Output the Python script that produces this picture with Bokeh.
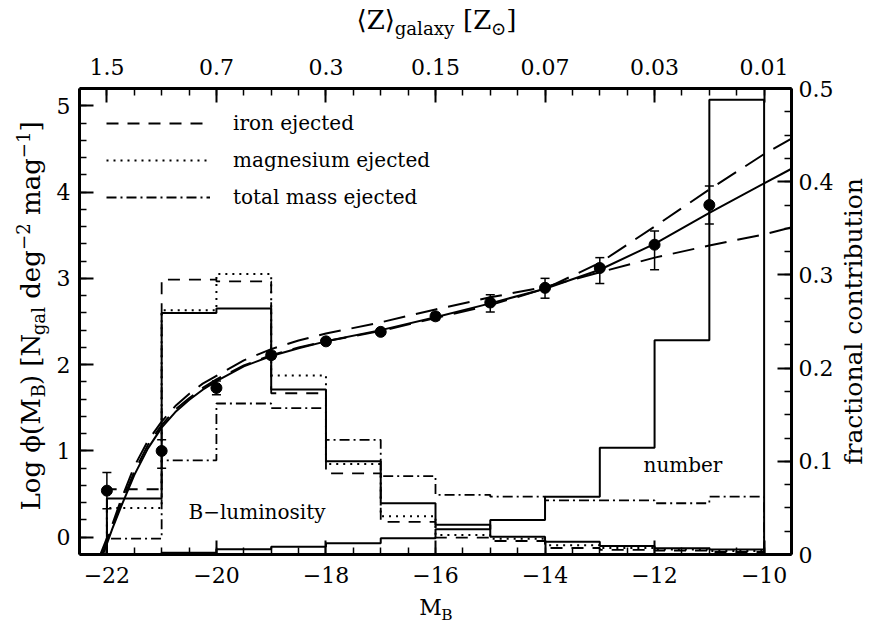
import math
from bokeh.plotting import figure
from bokeh.layouts import row, column
from bokeh.models import (Range1d, LinearAxis, SingleIntervalTicker, ColumnDataSource,
                          Whisker, TeeHead, Label, Legend, LegendItem, CustomJSTickFormatter)
from bokeh.embed import file_html
from bokeh.resources import INLINE

# ---------------- data ----------------
bin_edges = [-22, -21, -20, -19, -18, -17, -16, -15, -14, -13, -12, -11, -10]
frac_blum = [0.060, 0.259, 0.264, 0.177, 0.100, 0.055, 0.032, 0.019, 0.0137, 0.009, 0.0066, 0.0054]
frac_number = [0.0005, 0.002, 0.0056, 0.0084, 0.012, 0.0174, 0.027, 0.037, 0.062, 0.1146, 0.230, 0.488]
frac_iron = [0.070, 0.295, 0.293, 0.173, 0.087, 0.035, 0.018, 0.0145, 0.007, 0.005, 0.0043, 0.0027]
frac_mg = [0.050, 0.262, 0.301, 0.192, 0.097, 0.041, 0.021, 0.017, 0.010, 0.007, 0.0054, 0.0038]
frac_total = [0.017, 0.101, 0.162, 0.157, 0.123, 0.084, 0.064, 0.062, 0.058, 0.058, 0.055, 0.062]

pts_x = [-22, -21, -20, -19, -18, -17, -16, -15, -14, -13, -12, -11]
pts_y = [0.54, 1.00, 1.73, 2.11, 2.27, 2.38, 2.56, 2.72, 2.89, 3.12, 3.39, 3.85]
err_lo = [0.33, 0.80, 1.65, 2.07, 2.24, 2.35, 2.52, 2.61, 2.77, 2.94, 3.10, 3.63]
err_hi = [0.75, 1.13, 1.81, 2.15, 2.30, 2.41, 2.60, 2.81, 3.00, 3.24, 3.55, 4.07]

solid_x = [-22.07, -21.9, -21.75, -21.5, -21.25, -21.0, -20.75, -20.5, -20.25, -20.0, -19.5, -19.0,
           -18.5, -18.0, -17.0, -16.0, -15.0, -14.0, -13.0, -12.0, -11.0, -10.0, -9.5]
solid_y = [-0.20, 0.10, 0.34, 0.72, 1.03, 1.27, 1.45, 1.59, 1.71, 1.81, 1.98, 2.10,
           2.19, 2.27, 2.40, 2.55, 2.71, 2.88, 3.10, 3.40, 3.76, 4.10, 4.27]
steep_x = [-22.09, -21.9, -21.75, -21.5, -21.25, -21.0, -20.75, -20.5, -20.25, -20.0, -19.5, -19.0,
           -18.5, -18.0, -17.0, -16.0, -15.0, -14.0, -13.0, -12.0, -11.0, -10.0, -9.5]
steep_y = [-0.20, 0.12, 0.37, 0.76, 1.07, 1.30, 1.48, 1.61, 1.73, 1.83, 1.99, 2.11,
           2.20, 2.27, 2.39, 2.54, 2.69, 2.88, 3.18, 3.60, 4.03, 4.44, 4.62]
flat_x = [-22.12, -21.9, -21.75, -21.5, -21.25, -21.0, -20.75, -20.5, -20.25, -20.0, -19.5, -19.0,
          -18.5, -18.0, -17.0, -16.0, -15.0, -14.0, -13.0, -12.0, -11.0, -10.0, -9.5]
flat_y = [-0.20, 0.15, 0.42, 0.82, 1.12, 1.34, 1.52, 1.66, 1.78, 1.87, 2.05, 2.18,
          2.28, 2.36, 2.49, 2.64, 2.78, 2.90, 3.07, 3.24, 3.38, 3.51, 3.59]

top_ticks = [-22, -20, -18, -16, -14, -12, -10]
top_labels = ["1.5", "0.7", "0.3", "0.15", "0.07", "0.03", "0.01"]

legend_labels = ["iron ejected", "magnesium ejected", "total mass ejected"]

# ---------------- layout (picture pixels) ----------------
FONT = "DejaVu Serif"
L, R, T, B = 79, 791, 88, 554          # frame edges
X0, X1, Y0, Y1 = -22.5, -9.5, -0.2, 5.2
F0, F1 = 0.0, 0.5
TOTAL_W, TOTAL_H = 868, 628
LEFT_W, RIGHT_W, TOP_H, BOT_H = 50, 30, 40, 34
MAIN_X0 = LEFT_W
MAIN_X1 = TOTAL_W - RIGHT_W
MAIN_Y0 = TOP_H
MAIN_Y1 = TOTAL_H - BOT_H
MID = 0.36   # text 'middle' anchor sits this many em above the baseline

p = figure(frame_width=R - L, frame_height=B - T,
           min_border_left=L - MAIN_X0, min_border_right=MAIN_X1 - R,
           min_border_top=T - MAIN_Y0, min_border_bottom=MAIN_Y1 - B,
           x_range=Range1d(X0, X1), y_range=Range1d(Y0, Y1), title=None,
           x_axis_location=None, y_axis_location=None,
           output_backend="svg", toolbar_location=None)
p.extra_y_ranges = {"frac": Range1d(F0, F1)}
p.grid.visible = False
p.outline_line_color = None


def style(ax, standoff):
    ax.axis_line_width = 3
    ax.axis_line_color = "black"
    ax.major_tick_in = 14
    ax.major_tick_out = 0
    ax.minor_tick_in = 7
    ax.minor_tick_out = 0
    ax.major_tick_line_width = 2
    ax.minor_tick_line_width = 1.5
    ax.major_tick_line_color = "black"
    ax.minor_tick_line_color = "black"
    ax.major_label_text_font = FONT
    ax.major_label_text_font_size = "22px"
    ax.major_label_text_color = "black"
    ax.major_label_standoff = standoff


minus_fmt = CustomJSTickFormatter(code="return (tick < 0 ? '\u2212' : '') + Math.abs(tick).toFixed(0);")
bottom = LinearAxis(ticker=SingleIntervalTicker(interval=2, num_minor_ticks=4), formatter=minus_fmt)
style(bottom, 12)
p.add_layout(bottom, "below")

top = LinearAxis(ticker=SingleIntervalTicker(interval=2, num_minor_ticks=4),
                 major_label_overrides=dict(zip(top_ticks, top_labels)))
style(top, 14)
p.add_layout(top, "above")

left = LinearAxis(ticker=SingleIntervalTicker(interval=1, num_minor_ticks=5))
style(left, 9)
p.add_layout(left, "left")

right = LinearAxis(y_range_name="frac", ticker=SingleIntervalTicker(interval=0.1, num_minor_ticks=4),
                   formatter=CustomJSTickFormatter(code="return tick.toFixed(1).replace(/\\.0$/, '');"))
style(right, 7)
p.add_layout(right, "right")


# ---------------- histograms ----------------
def hist_xy(vals):
    return [bin_edges[0]] + bin_edges, [0.0] + list(vals) + [0.0]


def hist(vals, dash, width):
    xs, ys = hist_xy(vals)
    return p.step(xs, ys, mode="after", y_range_name="frac", line_color="black",
                  line_width=width, line_dash=dash)


hist(frac_blum, "solid", 2)
hist(frac_number, "solid", 2)
r_iron = hist(frac_iron, "12 9", 1.8)
r_mg = hist(frac_mg, "2 5", 2)
r_tot = hist(frac_total, "10 4 2 4", 1.8)

# ---------------- curves ----------------
p.line(solid_x, solid_y, line_color="black", line_width=2)
p.line(steep_x, steep_y, line_color="black", line_width=2, line_dash="22 11")
p.line(flat_x, flat_y, line_color="black", line_width=2, line_dash="22 11")

# ---------------- data points ----------------
src = ColumnDataSource(dict(x=pts_x, y=pts_y, lo=err_lo, hi=err_hi))
p.add_layout(Whisker(source=src, base="x", lower="lo", upper="hi", line_width=1.5,
                     upper_head=TeeHead(size=9, line_width=1.5),
                     lower_head=TeeHead(size=9, line_width=1.5)))
p.scatter("x", "y", source=src, size=11, marker="circle", color="black")

# ---------------- legend ----------------
legend = Legend(items=[LegendItem(label=legend_labels[0], renderers=[r_iron]),
                       LegendItem(label=legend_labels[1], renderers=[r_mg]),
                       LegendItem(label=legend_labels[2], renderers=[r_tot])],
                location=(27, 342), border_line_color=None, background_fill_alpha=0,
                label_text_font=FONT, label_text_font_size="20px", label_text_color="black",
                glyph_width=104, glyph_height=30, label_height=30, spacing=7, padding=0,
                margin=0, label_standoff=23)
p.add_layout(legend)


def xd(px):
    return X0 + (px - L) / (R - L) * (X1 - X0)


def yd(py):
    return Y0 + (B - py) / (B - T) * (Y1 - Y0)


p.add_layout(Label(x=xd(188), y=yd(511), text="B−luminosity", text_font=FONT,
                   text_font_size="20px", text_align="left", text_baseline="middle",
                   text_color="black"))
p.add_layout(Label(x=xd(643), y=yd(464), text="number", text_font=FONT,
                   text_font_size="20px", text_align="left", text_baseline="middle",
                   text_color="black"))


# ---------------- axis titles (own small text canvases) ----------------
def text_fig(w, h, xr):
    f = figure(width=w, height=h, min_border=0, x_range=xr, y_range=Range1d(0, h),
               title=None, x_axis_location=None, y_axis_location=None,
               toolbar_location=None, output_backend="svg")
    f.outline_line_color = None
    f.grid.visible = False
    return f


WID = {' ': 0.318, 'L': 0.648, 'o': 0.602, 'g': 0.640, 'ϕ': 0.75, '(': 0.390, ')': 0.390,
       'M': 0.995, 'B': 0.686, '[': 0.390, ']': 0.390, 'N': 0.815, 'a': 0.596, 'l': 0.320,
       'd': 0.640, 'e': 0.592, 'm': 0.948, '−': 0.838, '1': 0.636, '2': 0.636, 'Z': 0.685,
       '⟨': 0.39, '⟩': 0.39, 'x': 0.564, 'y': 0.592, '⊙': 0.838}


def tw(s, size):
    return sum(WID.get(c, 0.6) for c in s) * size


def compose(fig, mapx, mapy, segs, x_px, y_px, ang):
    """segs: (text, size, shift up of the baseline); (x_px, y_px) = start of the baseline"""
    a = math.radians(ang)
    ax_, ay_ = math.cos(a), -math.sin(a)
    ux, uy = -math.sin(a), -math.cos(a)
    pos = 0.0
    for text, size, shift in segs:
        lead = len(text) - len(text.lstrip(' '))
        pos += tw(text[:lead], size)
        t = text.lstrip(' ')
        up = shift + MID * size
        px = x_px + pos * ax_ + up * ux
        py = y_px + pos * ay_ + up * uy
        fig.add_layout(Label(x=mapx(px), y=mapy(py), text=t, angle=a, text_font=FONT,
                             text_font_size=f"{size}px", text_align="left",
                             text_baseline="middle", text_color="black"))
        pos += tw(t, size)


# left title
left_fig = text_fig(LEFT_W, TOTAL_H, Range1d(0, LEFT_W))
S, s = 26, 18.2
compose(left_fig, lambda px: px, lambda py: TOTAL_H - py,
        [("Log ϕ(M", S, 0), ("B", s, -0.19 * S), (") [N", S, 0), ("gal", s, -0.19 * S),
         (" deg", S, 0), ("−2", s, 0.42 * S), (" mag", S, 0), ("−1", s, 0.42 * S), ("]", S, 0)],
        40, 510, 90)

# top title (its frame lines up with the main frame)
top_fig = text_fig(MAIN_X1 - MAIN_X0, TOP_H, Range1d(X0, X1))
S2, s2 = 26, 18.2
tsegs = [("⟨Z⟩", S2, 0), ("galaxy", s2, -0.22 * S2), (" [Z", S2, 0), ("⊙", s2, -0.22 * S2), ("]", S2, 0)]
tw_total = sum(tw(t, sz) for t, sz, _ in tsegs)
compose(top_fig, xd, lambda py: TOP_H - py, tsegs, 436 - tw_total / 2, 29, 0)

# bottom title
bot_fig = text_fig(MAIN_X1 - MAIN_X0, BOT_H, Range1d(X0, X1))
S3, s3 = 22, 15.4
xw = tw("M", S3) + tw("B", s3)
compose(bot_fig, xd, lambda py: TOTAL_H - py, [("M", S3, 0), ("B", s3, -0.22 * S3)],
        435 - xw / 2, 615, 0)

# right title
right_fig = text_fig(RIGHT_W, TOTAL_H, Range1d(0, RIGHT_W))
right_fig.add_layout(Label(x=862 - MID * 25 - MAIN_X1, y=TOTAL_H - 321, text="fractional contribution",
                           angle=math.pi / 2, text_font=FONT, text_font_size="25px",
                           text_align="center", text_baseline="middle", text_color="black"))

layout = row(left_fig, column(top_fig, p, bot_fig), right_fig)
open("out.html", "w").write(file_html(layout, INLINE))
